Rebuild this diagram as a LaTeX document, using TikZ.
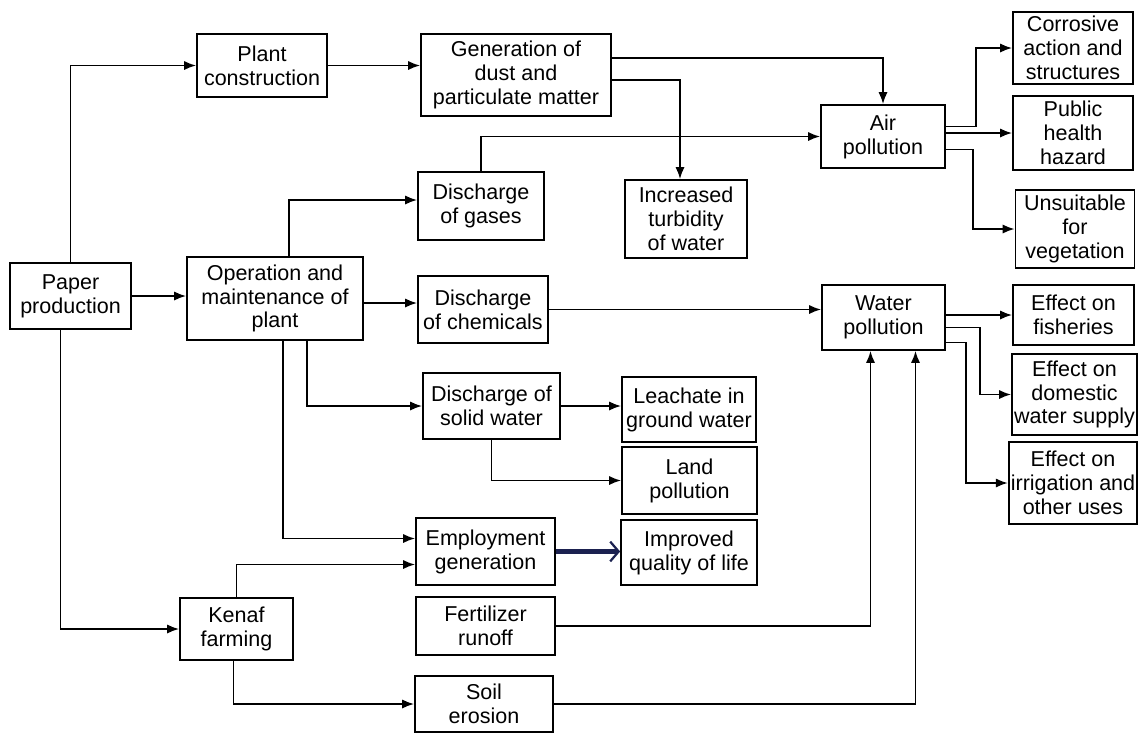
\documentclass[tikz,border=0pt]{standalone}
\usepackage{fontspec}
\setmainfont{Liberation Sans}
\usepackage{tikz}
\usetikzlibrary{arrows.meta,calc,positioning}
\definecolor{penNavy}{HTML}{1B2150}

\begin{document}
\begin{tikzpicture}[x=0.025cm,y=-0.025cm,>={Latex[length=8.5pt,width=6.5pt]},
    box/.style 2 args={draw,line width=1.2pt,align=center,inner sep=1.5pt,
      minimum width=#1*0.025cm,minimum height=#2*0.025cm,
      font=\fontsize{15.3}{17}\selectfont},
    link/.style={->,line width=1.3pt}]
    \useasboundingbox (0,0) rectangle (1140,733);

    \node[box={130}{63}] (pc) at (262,65.5) {Plant\\construction};
    \node[box={190}{82}] (gen) at (516,75) {Generation of\\dust and\\particulate matter};
    \node[box={124}{63}] (air) at (883,136.5) {Air\\pollution};
    \node[box={120}{72}] (cor) at (1073,48) {Corrosive\\action and\\structures};
    \node[box={120}{74}] (pub) at (1073,133) {Public\\health\\hazard};
    \node[box={119}{78}] (uns) at (1075,229) {Unsuitable\\for\\vegetation};
    \node[box={121}{66}] (pap) at (70.5,296) {Paper\\production};
    \node[box={176}{83}] (op) at (275,298.5) {Operation and\\maintenance of\\plant};
    \node[box={126}{68}] (gas) at (481,206) {Discharge\\of gases};
    \node[box={122}{78}] (tur) at (686,219) {Increased\\turbidity\\of water};
    \node[box={130}{67}] (chem) at (483,309.5) {Discharge\\of chemicals};
    \node[box={123}{65}] (wat) at (883.5,317.5) {Water\\pollution};
    \node[box={121}{60}] (fish) at (1073.5,315) {Effect on\\fisheries};
    \node[box={123}{81}] (dom) at (1074.5,394.5) {Effect on\\domestic\\water supply};
    \node[box={120}{82}] (irr) at (1073,483) {Effect on\\irrigation and\\other uses};
    \node[box={137}{66}] (sol) at (491.5,406) {Discharge of\\solid water};
    \node[box={134}{65}] (lea) at (689,409.5) {Leachate in\\ground water};
    \node[box={135}{67}] (land) at (689.5,480.5) {Land\\pollution};
    \node[box={136}{65}] (imp) at (689,552.5) {Improved\\quality of life};
    \node[box={139}{67}] (emp) at (485.5,551.5) {Employment\\generation};
    \node[box={139}{58}] (fer) at (485.5,626) {Fertilizer\\runoff};
    \node[box={138}{56}] (soil) at (484,704) {Soil\\erosion};
    \node[box={113}{62}] (ken) at (236.5,629) {Kenaf\\farming};

    % paper production
    \draw[link] (pap.north) |- (pc);
    \draw[link] (pap.east) -- (pap.east -| op.west);
    \draw[link] ($(pap.south)+(-10,0)$) |- (ken);

    % construction
    \draw[link] (pc.east) -- (pc.east -| gen.west);
    \draw[link] ($(gen.east)+(0,-17)$) -| (air.north);
    \draw[link] ($(gen.east)+(0,5)$) -| ($(tur.north)+(-6,0)$);

    % operation and maintenance
    \coordinate (opout) at ($(op.east)+(0,4.5)$);
    \draw[link] ($(op.north)+(14,0)$) |- ($(gas.west)+(0,-6)$);
    \draw[link] (gas.north) |- (air);
    \draw[link] (opout) -- (opout -| chem.west);
    \draw[link] ($(op.south)+(32,0)$) |- (sol.west);
    \draw[link] ($(op.south)+(8,0)$) |- ($(emp.west)+(0,-13)$);
    \draw[link] (chem.east) -- (chem.east -| wat.west);
    \draw[link] (sol.east) -- (sol.east -| lea.west);
    \draw[link] (sol.south) |- (land.west);
    \draw[penNavy,line width=3.2pt,-{Straight Barb[length=6pt,width=14pt,line width=1.6pt]}]
      (emp.east) -- (emp.east -| imp.west);

    % kenaf farming
    \draw[link] (ken.north) |- ($(emp.west)+(0,13)$);
    \draw[link] ($(ken.south)+(-3,0)$) |- (soil.west);
    \draw[link] (fer.east) -| ($(wat.south)+(-13,0)$);
    \draw[link] (soil.east) -| ($(wat.south)+(32,0)$);

    % air pollution effects
    \draw[link] ($(air.east)+(0,-10)$) -- ++(30,0) |- (cor.west);
    \draw[link] (air.east |- pub.west) -- (pub.west);
    \draw[link] ($(air.east)+(0,13)$) -- ++(27,0) |- (uns.west);

    % water pollution effects
    \draw[link] (wat.east |- fish.west) -- (fish.west);
    \draw[link] ($(wat.east)+(0,10)$) -- ++(34,0) |- (dom.west);
    \draw[link] ($(wat.east)+(0,25)$) -- ++(20,0) |- (irr.west);
  \end{tikzpicture}
\end{document}
